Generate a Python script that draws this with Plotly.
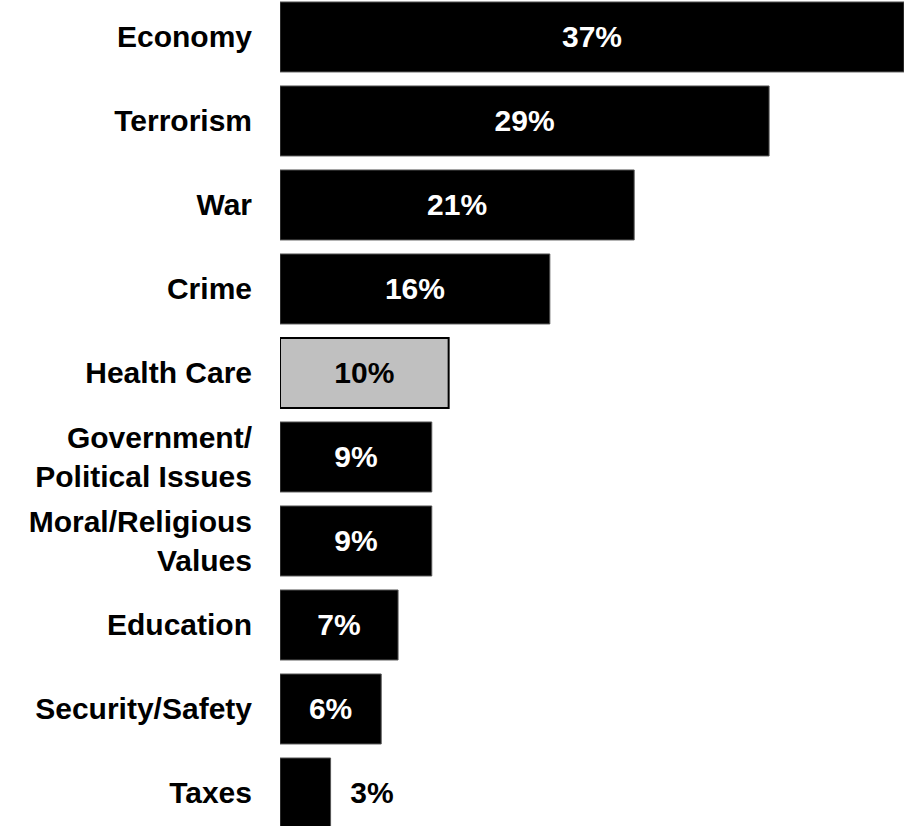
import plotly.graph_objects as go

categories = ["Economy", "Terrorism", "War", "Crime", "Health Care",
              "Government/<br>Political Issues", "Moral/Religious<br>Values",
              "Education", "Security/Safety", "Taxes"]
values = [37, 29, 21, 16, 10, 9, 9, 7, 6, 3]
value_labels = ["37%", "29%", "21%", "16%", "10%", "9%", "9%", "7%", "6%", "\u00a0\u00a03%"]

fill_colors = ["#000000"] * 10
fill_colors[4] = "#c0c0c0"
line_colors = ["#555555"] * 10
line_colors[4] = "#000000"
line_widths = [1] * 10
line_widths[4] = 2
text_colors = ["#ffffff"] * 10
text_colors[4] = "#000000"
text_colors[9] = "#000000"
text_positions = ["inside"] * 9 + ["outside"]

FONT = "Liberation Sans, Arial, sans-serif"

fig = go.Figure(go.Bar(
    y=categories,
    x=values,
    orientation="h",
    marker=dict(color=fill_colors, line=dict(color=line_colors, width=line_widths)),
    text=value_labels,
    textposition=text_positions,
    insidetextanchor="middle",
    textfont=dict(family=FONT, size=30, color=text_colors, weight="bold"),
    textangle=0,
    cliponaxis=False,
    constraintext="none",
))

fig.update_layout(
    width=904, height=826,
    margin=dict(l=280, r=0, t=0, b=0),
    paper_bgcolor="white", plot_bgcolor="white",
    bargap=0.167,
    showlegend=False,
    font=dict(family=FONT, size=30, color="black"),
)
fig.update_xaxes(range=[0, 37.0], visible=False, showgrid=False, zeroline=False)
fig.update_yaxes(
    type="category",
    categoryorder="array", categoryarray=categories,
    range=[9.393, -0.44],
    automargin=False,
    showgrid=False, zeroline=False, showline=False,
    ticks="", ticklabelstandoff=27,
    tickfont=dict(family=FONT, size=30, color="black", weight="bold"),
)

fig.write_html(
    "out.html",
    config={"displayModeBar": False},
    post_script="document.body.style.margin='0';window.dispatchEvent(new Event('resize'));",
)
